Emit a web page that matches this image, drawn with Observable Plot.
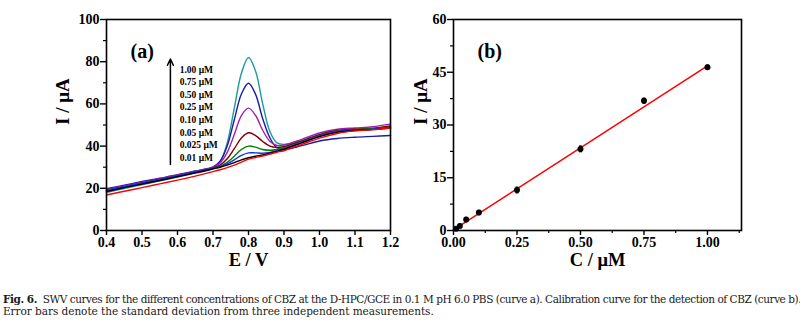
<!DOCTYPE html>
<html>
<head>
<meta charset="utf-8">
<script src="https://cdn.jsdelivr.net/npm/d3@7"></script>
<script src="https://cdn.jsdelivr.net/npm/@observablehq/plot@0.6"></script>
<style>
  html, body { margin: 0; padding: 0; background: #fff; }
  #wrap { position: relative; width: 800px; height: 325px; background: #fff; overflow: hidden; }
  #pa { position: absolute; left: 0; top: 0; }
  #pb { position: absolute; left: 400px; top: 0; }
  .cap { position: absolute; left: 3px; width: 793px; font-family: "DejaVu Serif", serif; font-size: 10.5px; color: #1a1a1a; white-space: nowrap; }
  #cap1 { top: 293px; text-align: justify; text-align-last: justify; letter-spacing: -0.45px; }
  #cap2 { top: 305px; letter-spacing: -0.05px; }
</style>
</head>
<body>
<div id="wrap">
  <div id="pa"></div>
  <div id="pb"></div>
  <div class="cap" id="cap1"><b>Fig. 6.</b>&nbsp; SWV curves for the different concentrations of CBZ at the D-HPC/GCE in 0.1 M pH 6.0 PBS (curve a). Calibration curve for the detection of CBZ (curve b).</div>
  <div class="cap" id="cap2">Error bars denote the standard deviation from three independent measurements.</div>
</div>
<script>
// ---------- Panel (a): SWV curves ----------
const potentials = [0.40,0.45,0.50,0.55,0.60,0.65,0.70,0.72,0.74,0.76,0.78,0.80,0.82,0.84,0.86,0.88,0.90,0.95,1.00,1.05,1.10,1.15,1.20];
const concLabels = ["1.00 μM","0.75 μM","0.50 μM","0.25 μM","0.10 μM","0.05 μM","0.025 μM","0.01 μM"];
const curveColors = ["#1b9b9b","#1c1ca8","#a020b0","#800000","#008000","#1030ff","#000000","#ff0000"];
const cur100 = [18.0,19.9,21.7,23.5,25.3,27.2,29.3,32.5,41.5,58.0,74.5,82.0,75.5,60.0,47.0,41.5,40.8,42.5,45.3,47.3,48.0,48.4,49.2];
const cur075 = [19.8,21.5,23.2,24.8,26.4,28.2,30.1,32.8,40.0,52.5,64.7,69.8,64.5,53.0,44.0,39.2,38.4,40.2,42.4,43.6,44.2,44.6,45.0];
const cur050 = [19.3,21.1,22.8,24.5,26.2,28.0,29.9,32.0,37.0,45.5,54.5,58.0,54.5,47.5,42.3,40.3,40.5,43.2,46.2,48.0,48.6,49.2,50.4];
const cur025 = [19.0,20.8,22.5,24.2,25.9,27.7,29.6,31.0,34.0,38.8,43.8,46.3,45.0,42.2,40.0,39.4,39.8,42.4,45.4,47.4,48.0,48.4,49.5];
const cur010 = [18.5,20.4,22.2,23.9,25.7,27.5,29.4,30.5,32.3,35.2,38.4,40.0,39.5,38.4,38.0,38.4,39.2,42.0,45.0,47.0,47.8,48.2,49.0];
const cur005 = [19.0,20.8,22.4,24.1,25.8,27.6,29.4,30.3,31.6,33.5,35.6,36.8,36.8,36.6,37.0,37.8,38.8,41.7,44.8,46.8,47.6,48.0,48.8];
const cur0025 = [18.5,20.3,22.0,23.7,25.5,27.3,29.2,30.0,31.0,32.2,33.5,34.5,35.2,35.8,36.6,37.5,38.5,41.5,44.5,46.5,47.4,47.8,48.5];
const cur001 = [16.8,18.6,20.3,22.1,23.9,25.8,27.9,28.8,29.8,31.0,32.4,33.8,34.6,35.3,36.2,37.1,37.8,40.8,43.8,46.0,47.2,47.8,48.6];
const curves = [cur100, cur075, cur050, cur025, cur010, cur005, cur0025, cur001];
const xTicksA = [0.4,0.5,0.6,0.7,0.8,0.9,1.0,1.1,1.2];
const yTicksA = [0,20,40,60,80,100];
const yMinorA = [10,30,50,70,90];

// ---------- Panel (b): calibration ----------
const concentrations = [0.01,0.025,0.05,0.10,0.25,0.50,0.75,1.00];
const peakCurrents = [0.5,1.3,3.1,5.1,11.5,23.2,36.9,46.4];
const errors = [0.4,0.5,0.6,0.6,0.8,0.8,0.7,0.6];
const fitC = [0, 1.0];
const fitI = [0.2, 46.8];
const xTicksB = [0,0.25,0.5,0.75,1.0];
const xMinorB = [0.125,0.375,0.625,0.875,1.125];
const yTicksB = [0,15,30,45,60];
const yMinorB = [7.5,22.5,37.5,52.5];

const FONT = "'Liberation Serif', 'Times New Roman', serif";
const baseStyle = {fontFamily: FONT, fontWeight: "bold", fontSize: "14px", color: "#000", background: "transparent", overflow: "visible"};

const rows = [];
curves.forEach((arr, k) => arr.forEach((v, i) => rows.push({E: potentials[i], I: v, s: concLabels[k]})));

const pa = Plot.plot({
  width: 400, height: 280,
  marginLeft: 106, marginRight: 10, marginTop: 19, marginBottom: 50,
  style: baseStyle,
  x: {domain: [0.4, 1.2]},
  y: {domain: [0, 100]},
  marks: [
    ...concLabels.map((lab, k) => Plot.line(rows.filter(r => r.s === lab), {x: "E", y: "I", stroke: curveColors[k], strokeWidth: 1.4, curve: "catmull-rom"})),
    Plot.frame({stroke: "#000", strokeWidth: 1.6}),
    Plot.axisX({ticks: xTicksA, tickFormat: d3.format(".1f"), tickSize: 5, tickPadding: 2, label: null, strokeWidth: 1.4}),
    Plot.axisY({ticks: yTicksA, tickFormat: d3.format("d"), tickSize: 6, tickPadding: 1, label: null, strokeWidth: 1.4}),
    Plot.axisY({ticks: yMinorA, tickFormat: () => "", tickSize: 3, label: null, strokeWidth: 1.2}),
    Plot.arrow([0], {x1: 0.58, x2: 0.58, y1: 31.3, y2: 81.3, stroke: "#000", strokeWidth: 1.5, headLength: 7, headAngle: 50}),
    Plot.text(concLabels, {x: 0.606, y: (d, i) => 76.3 - 5.97 * i, text: d => d, textAnchor: "start", fontSize: 9.5, fontWeight: "bold", fill: "#000"}),
    Plot.text(["(a)"], {frameAnchor: "top-left", dx: 24, dy: 24, fontSize: 20, fontWeight: "bold", fill: "#000"}),
    Plot.text(["E / V"], {frameAnchor: "bottom", dy: 35, fontSize: 18.5, fontWeight: "bold", fill: "#000"}),
    Plot.text(["I / μA"], {frameAnchor: "left", dx: -44, rotate: -90, fontSize: 19, fontWeight: "bold", fill: "#000"})
  ]
});
document.getElementById("pa").appendChild(pa);

const pts = concentrations.map((c, i) => ({C: c, I: peakCurrents[i], e: errors[i]}));
const fit = fitC.map((c, i) => ({C: c, I: fitI[i]}));

const pb = Plot.plot({
  width: 400, height: 280,
  marginLeft: 53, marginRight: 59, marginTop: 19, marginBottom: 50,
  style: baseStyle,
  x: {domain: [0, 1.134]},
  y: {domain: [0, 60]},
  marks: [
    Plot.line(fit, {x: "C", y: "I", stroke: "#ff0000", strokeWidth: 1.5}),
    Plot.ruleX(pts, {x: "C", y1: d => d.I - d.e, y2: d => d.I + d.e, stroke: "#000", strokeWidth: 1.5}),
    Plot.link(pts, {x1: d => d.C - 0.006, x2: d => d.C + 0.006, y1: d => d.I + d.e, y2: d => d.I + d.e, stroke: "#000", strokeWidth: 1.2}),
    Plot.link(pts, {x1: d => d.C - 0.006, x2: d => d.C + 0.006, y1: d => d.I - d.e, y2: d => d.I - d.e, stroke: "#000", strokeWidth: 1.2}),
    Plot.dot(pts, {x: "C", y: "I", r: 3, fill: "#000", stroke: "none"}),
    Plot.frame({stroke: "#000", strokeWidth: 1.6}),
    Plot.axisX({ticks: xTicksB, tickFormat: d3.format(".2f"), tickSize: 5, tickPadding: 2, label: null, strokeWidth: 1.4}),
    Plot.axisX({ticks: xMinorB, tickFormat: () => "", tickSize: 3, label: null, strokeWidth: 1.2}),
    Plot.axisY({ticks: yTicksB, tickFormat: d3.format("d"), tickSize: 6, tickPadding: 1, label: null, strokeWidth: 1.4}),
    Plot.axisY({ticks: yMinorB, tickFormat: () => "", tickSize: 3, label: null, strokeWidth: 1.2}),
    Plot.text(["(b)"], {frameAnchor: "top-left", dx: 24, dy: 24, fontSize: 20, fontWeight: "bold", fill: "#000"}),
    Plot.text(["C / μM"], {frameAnchor: "bottom", dy: 35, fontSize: 18.5, fontWeight: "bold", fill: "#000"}),
    Plot.text(["I / μA"], {frameAnchor: "left", dx: -33, rotate: -90, fontSize: 19, fontWeight: "bold", fill: "#000"})
  ]
});
document.getElementById("pb").appendChild(pb);
</script>
</body>
</html>
